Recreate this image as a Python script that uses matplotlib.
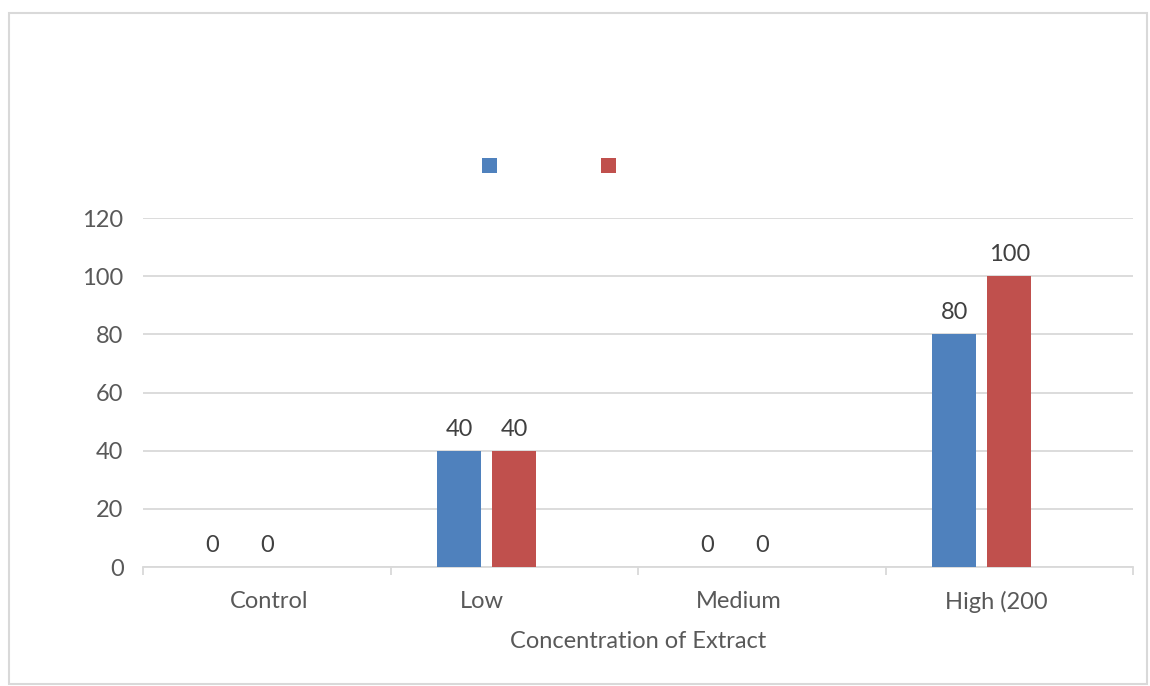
import matplotlib
matplotlib.use("Agg")
import matplotlib.pyplot as plt
import matplotlib.transforms as mtransforms
from matplotlib.patches import Patch, Rectangle
import numpy as np

# ---- data ----
categories = ["Control", "Low", "Medium", "High (200"]
series_a = [0, 40, 0, 80]      # blue
series_b = [0, 40, 0, 100]     # red
series_names = ["", ""]
yticks = [0, 20, 40, 60, 80, 100, 120]
xlabel = "Concentration of Extract"

# ---- style ----
blue = "#4f81bd"
red = "#c0504d"
grid_c = "#d9d9d9"
text_c = "#595959"
fs = 17
font = ["Lato", "DejaVu Sans"]
plt.rcParams["font.family"] = font

fig = plt.figure(figsize=(11.5, 6.86), dpi=100)
ax = fig.add_axes([143/1150, 1-567/686, (1133-143)/1150, (567-218)/686])

x = np.arange(len(categories))
w = 0.178
off = 0.222
b1 = ax.bar(x - off, series_a, w, color=blue, zorder=3)
b2 = ax.bar(x, series_b, w, color=red, zorder=3)

for bars, vals in ((b1, series_a), (b2, series_b)):
    for r, v in zip(bars, vals):
        ax.annotate(f"{v}", (r.get_x() + r.get_width()/2, v),
                    xytext=(0, 8), textcoords="offset points",
                    ha="center", va="bottom", fontsize=fs, color="#404040")

ax.set_xlim(-0.5, len(categories) - 0.5)
ax.set_ylim(0, 120)
ax.set_yticks(yticks)
ax.yaxis.grid(True, color=grid_c, linewidth=1.3, zorder=0)
ax.set_axisbelow(True)
for s in ("top", "right", "left"):
    ax.spines[s].set_visible(False)
ax.spines["bottom"].set_color(grid_c)
ax.spines["bottom"].set_linewidth(1.3)
ax.tick_params(axis="y", length=0, pad=14, labelsize=fs, labelcolor=text_c)

# category labels & boundary ticks
ax.set_xticks(x)
ax.set_xticklabels(categories)
ax.tick_params(axis="x", which="major", length=0, pad=17, labelsize=fs, labelcolor=text_c)
ax.set_xticks(np.arange(-0.5, len(categories)), minor=True)
ax.tick_params(axis="x", which="minor", length=6, width=1.3, color=grid_c)
label_shift_px = [2, -32, -23, -13]
for lab, dx in zip(ax.get_xticklabels(), label_shift_px):
    lab.set_transform(lab.get_transform() + mtransforms.Affine2D().translate(dx, 0))

xl = ax.set_xlabel(xlabel, fontsize=fs, color=text_c, va="center")
ax.xaxis.set_label_coords(0.5, -74/349)

# legend (blank series names)
handles = [Patch(facecolor=blue), Patch(facecolor=red)]
fig.legend(handles, series_names, loc="center", bbox_to_anchor=(549/1150, 1-167/686),
           ncol=2, frameon=False, fontsize=15, handlelength=0.7, handleheight=0.7,
           handletextpad=0, columnspacing=5.0, borderpad=0)

# outer chart border
fig.patches.append(Rectangle((9/1150, 1-684/686), (1147-9)/1150, (684-13)/686,
                             transform=fig.transFigure, fill=False,
                             edgecolor=grid_c, linewidth=1.5))

fig.savefig("out.png", dpi=100)
